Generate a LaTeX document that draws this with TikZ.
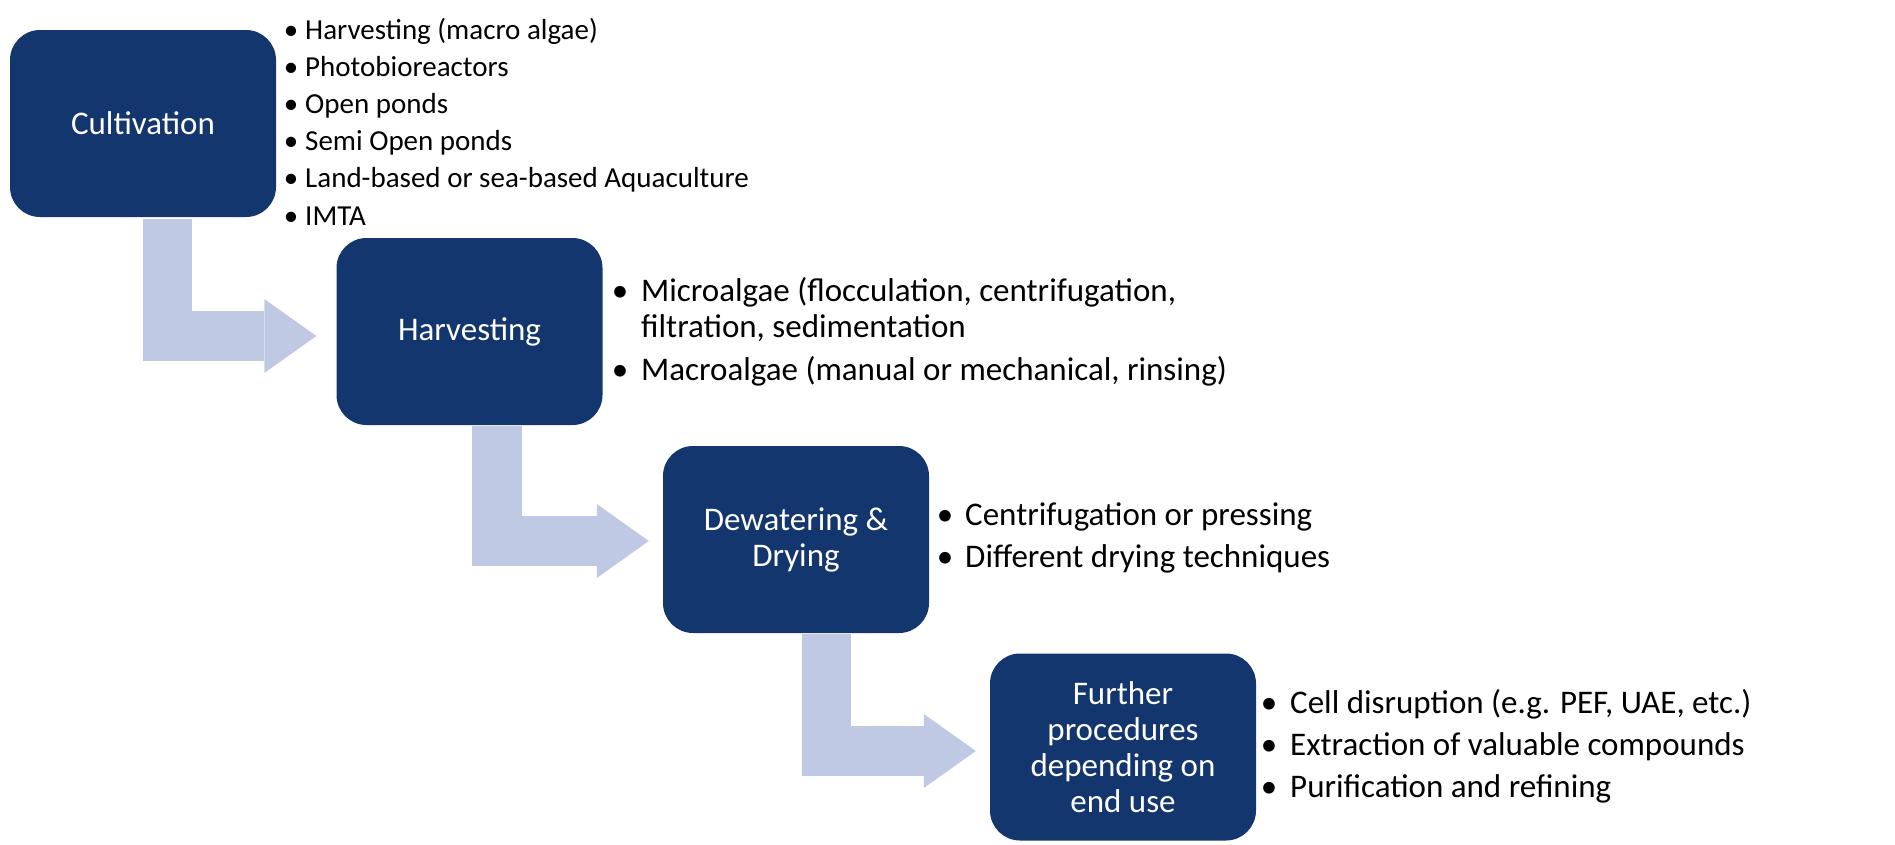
\documentclass[tikz,border=0pt]{standalone}
\usepackage{fontspec}
\setmainfont{Carlito}
\usetikzlibrary{arrows.meta,calc}
\definecolor{boxblue}{HTML}{14366E}
\definecolor{flowblue}{HTML}{BFC9E3}
\begin{document}
\begin{tikzpicture}[x=1pt,y=-1pt,
  stepbox/.style={fill=boxblue, rounded corners=30pt, minimum width=266pt, minimum height=187pt,
    inner sep=0pt, align=center, text=white, font=\fontsize{33}{36}\selectfont},
  flow/.style={draw=flowblue, line width=49.5pt, -{Triangle[length=52pt,width=74pt,line width=0pt]}},
  listitem/.style={anchor=base west, inner sep=0pt, font=\fontsize{33}{36}\selectfont},
  smallitem/.style={listitem, font=\fontsize{29}{34}\selectfont},
  bulletmark/.style={anchor=base, inner sep=0pt, font=\fontsize{33}{36}\selectfont},
  smallbullet/.style={bulletmark, font=\fontsize{29}{34}\selectfont}]
\useasboundingbox (0,0) rectangle (1895,844);

% boxes
\node[stepbox] (cult) at (143,123.5) {Cultivation};
\node[stepbox] (harv) at (469.5,331.5) {Harvesting};
\node[stepbox] (dew) at (796,539.5) {Dewatering \&\\Drying};
\node[stepbox] (fur) at (1123,747) {Further\\procedures\\depending on\\end use};

% flow arrows
\coordinate (a1s) at ($(cult.south west)+(157.5,2)$);
\coordinate (a1e) at ($(harv.west)+(-20,4.5)$);
\draw[flow] (a1s) |- (a1e);
\coordinate (a2s) at ($(harv.south west)+(160.5,1)$);
\coordinate (a2e) at ($(dew.west)+(-14,1.5)$);
\draw[flow] (a2s) |- (a2e);
\coordinate (a3s) at ($(dew.south west)+(163.5,1)$);
\coordinate (a3e) at ($(fur.west)+(-14,4)$);
\draw[flow] (a3s) |- (a3e);

% cultivation list
\node[smallbullet] (cb1) at (291,39) {•};
\node[smallitem] (ct1) at (305,39) {Harvesting (macro algae)};
\node[smallbullet] (cb2) at (291,76.2) {•};
\node[smallitem] (ct2) at (305,76.2) {Photobioreactors};
\node[smallbullet] (cb3) at (291,113.4) {•};
\node[smallitem] (ct3) at (305,113.4) {Open ponds};
\node[smallbullet] (cb4) at (291,150.6) {•};
\node[smallitem] (ct4) at (305,150.6) {Semi Open ponds};
\node[smallbullet] (cb5) at (291,187.8) {•};
\node[smallitem] (ct5) at (305,187.8) {Land-based or sea-based Aquaculture};
\node[smallbullet] (cb6) at (291,225) {•};
\node[smallitem] (ct6) at (305,225) {IMTA};

% harvesting list
\node[bulletmark] (hb1) at (620,301) {•};
\node[listitem] (ht1) at (641,301) {Microalgae (flocculation, centrifugation,};
\node[listitem] (ht1b) at (641,337) {filtration, sedimentation};
\node[bulletmark] (hb2) at (620,380) {•};
\node[listitem] (ht2) at (641,380) {Macroalgae (manual or mechanical, rinsing)};

% dewatering list
\node[bulletmark] (db1) at (945,525) {•};
\node[listitem] (dt1) at (965,525) {Centrifugation or pressing};
\node[bulletmark] (db2) at (945,567) {•};
\node[listitem] (dt2) at (965,567) {Different drying techniques};

% further list
\node[bulletmark] (fb1) at (1269,713) {•};
\node[listitem] (ft1) at (1290,713) {Cell disruption (e.g. PEF, UAE, etc.)};
\node[bulletmark] (fb2) at (1269,755) {•};
\node[listitem] (ft2) at (1290,755) {Extraction of valuable compounds};
\node[bulletmark] (fb3) at (1269,797) {•};
\node[listitem] (ft3) at (1290,797) {Purification and refining};
\end{tikzpicture}
\end{document}
